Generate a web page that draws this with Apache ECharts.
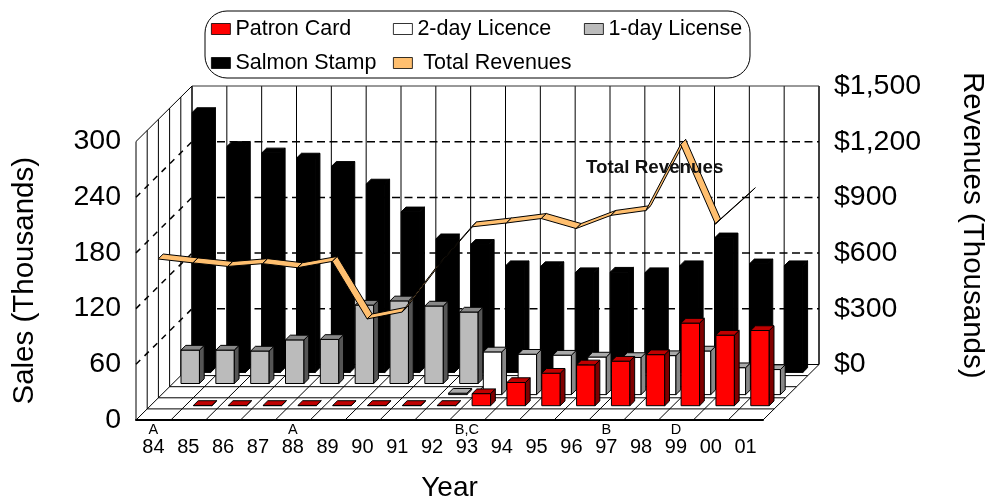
<!DOCTYPE html>
<html>
<head>
<meta charset="utf-8">
<style>html,body{margin:0;padding:0;background:#fff}#c{width:985px;height:501px}</style>
<script src="https://cdn.jsdelivr.net/npm/echarts@6/dist/echarts.min.js"></script>
</head>
<body>
<div id="c"></div>
<script>
const years = ['84','85','86','87','88','89','90','91','92','93','94','95','96','97','98','99','00','01'];
const notes = ['A','','','','A','','','','','B,C','','','','B','','D','',''];
const patronCard = [null,0.3,0.3,0.3,0.3,0.3,0.3,0.3,0.3,13,25,35,44,48,55,89,76,81];
const twoDay = [null,null,null,null,null,null,null,null,1.5,46,43.5,42.5,40.5,40,42,47,29,27];
const oneDay = [36,36,35,47,47.5,84.5,89,83.5,77,null,null,null,null,null,null,null,null,null];
const salmon = [280,243.5,236.5,231,222,203,173,144,138,115,114,107.5,108,107.5,115,145,117,115];
const revenue = [842,821,802,817,795,829,519,556,801,1015,1036,1060,1006,1077,1103,1459,1031,1199];
const salesTicks = [60,120,180,240];
const revenueTicks = [300,600,900,1200];

const DEPTH = [56,-55.5];
const FONT = '"Liberation Sans", Arial, sans-serif';

function pt(api, i, v, f){
  const p = api.coord([i, v]);
  return [p[0] + DEPTH[0]*f, p[1] + DEPTH[1]*f];
}
function bar3d(center, faces){
  const half = 0.0425, hw = 0.265;
  return function(params, api){
    const i = api.value(0), v = api.value(1);
    if (v == null || isNaN(v)) return;
    const band = api.size([1,0])[0];
    const base = pt(api, i, 0, center-half), top = pt(api, i, v, center-half);
    const w = band*hw, dx = DEPTH[0]*2*half, dy = DEPTH[1]*2*half;
    const l = base[0]-w, r = base[0]+w;
    const st = {stroke:faces.edge||'#000', lineWidth:1, lineJoin:'round'};
    return {type:'group', children:[
      {type:'polygon', shape:{points:[[l,base[1]],[r,base[1]],[r,top[1]],[l,top[1]]]}, style:Object.assign({fill:faces.front},st)},
      {type:'polygon', shape:{points:[[r,base[1]],[r+dx,base[1]+dy],[r+dx,top[1]+dy],[r,top[1]]]}, style:Object.assign({fill:faces.side},st)},
      {type:'polygon', shape:{points:[[l,top[1]],[r,top[1]],[r+dx,top[1]+dy],[l+dx,top[1]+dy]]}, style:Object.assign({fill:faces.top},st)}
    ]};
  };
}
function line(a,b,stroke,width,dash){
  return {type:'line', shape:{x1:a[0],y1:a[1],x2:b[0],y2:b[1]}, style:{stroke:stroke||'#000', lineWidth:width||1, lineDash:dash||null}};
}
function renderFrame(params, api){
  const band = api.size([1,0])[0];
  const c0 = api.coord([0,0]);
  const x0 = c0[0]-band/2, n = years.length, xEnd = x0+band*n;
  const y0 = c0[1], yTop = api.coord([0,300])[1], ch = [];
  const P = (x,y,f)=>[x+DEPTH[0]*f, y+DEPTH[1]*f];
  for (let i=0;i<=n;i++){
    const x = x0+band*i;
    ch.push(line(P(x,y0,1),P(x,yTop,1),'#000',i===n?1.5:1));
    ch.push(line(P(x,y0,0),P(x,y0,1),'#000',1));
  }
  for (let k=0;k<=5;k++){
    const f = k/5;
    ch.push(line(P(x0,y0,f),P(xEnd,y0,f),'#000',1));
    ch.push(line(P(x0,y0,f),P(x0,yTop,f),'#000',1));
  }
  ch.push(line(P(x0,yTop,1),P(xEnd,yTop,1),'#333',1));
  ch.push(line(P(x0,yTop,0),P(x0,yTop,1),'#000',1));
  salesTicks.forEach(t=>{
    const y = api.coord([0,t])[1];
    ch.push(line(P(x0,y,0),P(x0,y,1),'#000',1.5,[6,6]));
    ch.push(line(P(x0,y,1),P(xEnd,y,1),'#000',1.5,[8,4.5]));
  });
  return {type:'group', children:ch};
}
const ribbonF0 = 0.084, ribbonD = 0.09;
function renderRibbon(params, api){
  const i = api.value(0);
  if (i >= revenue.length-1) return;
  const a = pt(api,i,api.value(1),ribbonF0), b = pt(api,i+1,revenue[i+1],ribbonF0);
  const d = [DEPTH[0]*ribbonD, DEPTH[1]*ribbonD];
  return {type:'polygon', shape:{points:[a,b,[b[0]+d[0],b[1]+d[1]],[a[0]+d[0],a[1]+d[1]]]},
    style:{fill:'#FFBF6F', stroke:'#000', lineWidth:1, lineJoin:'round'}};
}
const rows = v => v.map((x,i)=>[i,x]).filter(r=>r[1]!=null);
const legendText = {color:'#000', fontFamily:FONT, fontSize:21.5};
const legendBase = {orient:'vertical', icon:'rect', selectedMode:false, itemWidth:19, itemHeight:11, itemGap:12, padding:0, textStyle:legendText, itemStyle:{borderWidth:0.8, borderColor:'#000'}};

const chart = echarts.init(document.getElementById('c'), null, {renderer:'canvas'});
chart.setOption({
  animation:false,
  backgroundColor:'#fff',
  textStyle:{fontFamily:FONT},
  tooltip:{show:false},
  grid:[
    {left:136, top:141.5, width:627, height:278.5, outerBoundsMode:'none'},
    {left:192, top:86, width:627, height:278.5, outerBoundsMode:'none'}
  ],
  xAxis:[
    {type:'category', gridIndex:0, data:years, boundaryGap:true,
     axisLine:{show:true, lineStyle:{color:'#000', width:2}}, axisTick:{show:false}, splitLine:{show:false},
     axisLabel:{interval:0, margin:3, color:'#000',
       formatter:(v,i)=>'{n|'+(notes[i]||' ')+'}\n{y|'+v+'}',
       rich:{n:{fontSize:14.5, lineHeight:14, fontFamily:FONT, color:'#000'}, y:{fontSize:20, lineHeight:21, fontFamily:FONT, color:'#000'}}},
     name:'Year', nameLocation:'middle', nameGap:54, nameTextStyle:{fontSize:28, color:'#000', fontFamily:FONT}},
    {type:'category', gridIndex:1, data:years, show:false}
  ],
  yAxis:[
    {type:'value', gridIndex:0, min:0, max:300, interval:60, position:'left',
     axisLine:{show:false}, axisTick:{show:false}, splitLine:{show:false},
     axisLabel:{margin:15, color:'#000', fontSize:28.5, fontFamily:FONT, padding:[6,0,0,0]},
     name:'Sales (Thousands)', nameLocation:'middle', nameRotate:90, nameGap:96, nameTextStyle:{fontSize:29.5, color:'#000', fontFamily:FONT}},
    {type:'value', gridIndex:0, min:0, max:1500, interval:300, show:false},
    {type:'value', gridIndex:1, min:0, max:1500, interval:300, position:'right',
     axisLine:{show:false}, axisTick:{show:false}, splitLine:{show:false},
     axisLabel:{margin:15, color:'#000', fontSize:28.5, fontFamily:FONT, padding:[4,0,0,0],
       formatter:v=>'$'+v.toLocaleString('en-US')},
     name:'Revenues (Thousands)', nameLocation:'middle', nameRotate:-90, nameGap:138, nameTextStyle:{fontSize:29.5, color:'#000', fontFamily:FONT}}
  ],
  legend:[
    Object.assign({left:211, top:18, data:['Patron Card','Salmon Stamp']},legendBase),
    Object.assign({left:393, top:18, data:['2-day Licence']},legendBase),
    Object.assign({left:393, top:52, data:['Total Revenues'], formatter:n=>' '+n},legendBase),
    Object.assign({left:584, top:18, data:['1-day License']},legendBase)
  ],
  graphic:[
    {type:'rect', left:204.5, top:10.5, z:-1, shape:{width:545,height:67,r:22}, style:{fill:'#fff',stroke:'#000',lineWidth:1}},
    {type:'text', left:586, top:158, z:100, style:{text:'Total Revenues', font:'bold 18.8px '+FONT, fill:'#111'}}
  ],
  series:[
    {type:'custom', name:'frame', silent:true, clip:false, xAxisIndex:0, yAxisIndex:0, data:[[0,0]], renderItem:renderFrame, z:1},
    {type:'custom', name:'Salmon Stamp', clip:false, xAxisIndex:0, yAxisIndex:0, data:rows(salmon), z:2,
     itemStyle:{color:'#000', borderColor:'#000', borderWidth:1},
     renderItem:bar3d(0.9,{front:'#000',side:'#000',top:'#000',edge:'#000'})},
    {type:'custom', name:'1-day License', clip:false, xAxisIndex:0, yAxisIndex:0, data:rows(oneDay), z:3,
     itemStyle:{color:'#BBBBBB', borderColor:'#000', borderWidth:1},
     renderItem:bar3d(0.7,{front:'#BBBBBB',side:'#555555',top:'#888888'})},
    {type:'custom', name:'2-day Licence', clip:false, xAxisIndex:0, yAxisIndex:0, data:rows(twoDay), z:4,
     itemStyle:{color:'#FFFFFF', borderColor:'#000', borderWidth:1},
     renderItem:bar3d(0.5,{front:'#FFFFFF',side:'#888888',top:'#AAAAAA'})},
    {type:'custom', name:'Patron Card', clip:false, xAxisIndex:0, yAxisIndex:0, data:rows(patronCard), z:5,
     itemStyle:{color:'#FF0000', borderColor:'#000', borderWidth:1},
     renderItem:bar3d(0.3,{front:'#FF0000',side:'#800000',top:'#C00000'})},
    {type:'custom', name:'Total Revenues', clip:false, xAxisIndex:0, yAxisIndex:1, data:rows(revenue), z:6,
     itemStyle:{color:'#FFBF6F', borderColor:'#000', borderWidth:1},
     renderItem:renderRibbon}
  ]
});
</script>
</body>
</html>
